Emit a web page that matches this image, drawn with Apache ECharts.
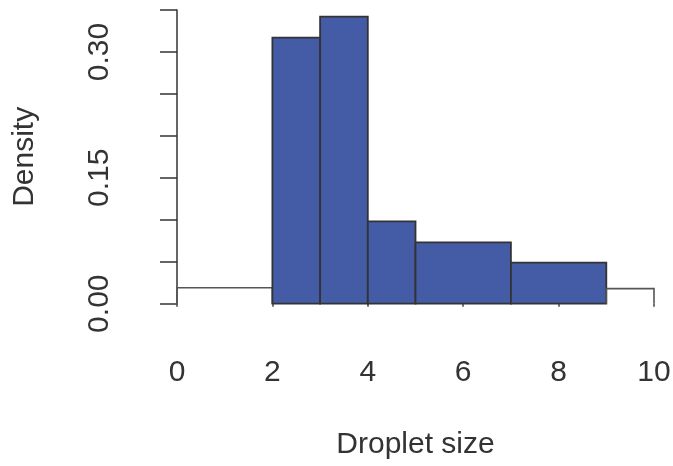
<!DOCTYPE html>
<html>
<head>
<meta charset="utf-8">
<script src="https://cdn.jsdelivr.net/npm/echarts@6/dist/echarts.min.js"></script>
<style>
  html, body { margin: 0; padding: 0; background: #fff; }
  #chart { width: 673px; height: 466px; }
</style>
</head>
<body>
<div id="chart"></div>
<script>
// histogram bins (unequal widths) and density heights
const breaks = [0, 2, 3, 4, 5, 7, 9, 10];
const densities = [0.019, 0.317, 0.342, 0.098, 0.073, 0.049, 0.018];
// bins inside this range are shaded
const shadedFrom = 2;
const shadedTo = 9;
const xTicks = [0, 2, 4, 6, 8, 10];
const yLabels = [0, 0.15, 0.30];

const FONT = 'Liberation Sans, Arial, sans-serif';
const TEXT = '#333333';

const bins = densities.map((d, i) => [breaks[i], breaks[i + 1], d]);

const chart = echarts.init(document.getElementById('chart'));

chart.setOption({
    animation: false,
    backgroundColor: '#ffffff',
    grid: { left: 177, right: 19, top: 10, bottom: 162.3, outerBoundsMode: 'none' },
    xAxis: {
        type: 'value',
        min: xTicks[0],
        max: xTicks[xTicks.length - 1],
        interval: 2,
        name: 'Droplet size',
        nameLocation: 'middle',
        nameGap: 126,
        nameTextStyle: { fontFamily: FONT, fontSize: 30, color: TEXT },
        axisLine: { show: false },
        axisTick: { show: true, length: 3, lineStyle: { color: '#444', width: 1.5 } },
        axisLabel: { fontFamily: FONT, fontSize: 30, color: TEXT, margin: 54 },
        splitLine: { show: false }
    },
    yAxis: {
        type: 'value',
        min: 0,
        max: 0.35,
        interval: 0.05,
        offset: 20,
        name: 'Density',
        nameLocation: 'middle',
        nameGap: 117,
        nameRotate: 90,
        nameTextStyle: { fontFamily: FONT, fontSize: 30, color: TEXT },
        axisLine: { show: true, lineStyle: { color: '#333', width: 1.5 } },
        axisTick: { show: true, length: 17, lineStyle: { color: '#333', width: 1.5 } },
        axisLabel: {
            rotate: 90,
            margin: 42,
            fontFamily: FONT,
            fontSize: 30,
            color: TEXT,
            formatter: v => yLabels.some(l => Math.abs(l - v) < 1e-9) ? v.toFixed(2) : ''
        },
        splitLine: { show: false }
    },
    series: [{
        type: 'custom',
        data: bins,
        encode: { x: [0, 1], y: 2 },
        renderItem: (params, api) => {
            const x0 = api.value(0), x1 = api.value(1), d = api.value(2);
            const p0 = api.coord([x0, 0]);
            const p1 = api.coord([x1, d]);
            if (x0 >= shadedFrom && x1 <= shadedTo) {
                return {
                    type: 'rect',
                    shape: { x: p0[0], y: p1[1], width: p1[0] - p0[0], height: p0[1] - p1[1] },
                    style: { fill: '#445ca6', stroke: '#333', lineWidth: 1.8 }
                };
            }
            // empty-looking bins: outline only, no bottom edge
            return {
                type: 'polyline',
                shape: { points: [[p0[0], p0[1]], [p0[0], p1[1]], [p1[0], p1[1]], [p1[0], p0[1]]] },
                style: { fill: null, stroke: '#555', lineWidth: 1.6 }
            };
        }
    }]
});
</script>
</body>
</html>
